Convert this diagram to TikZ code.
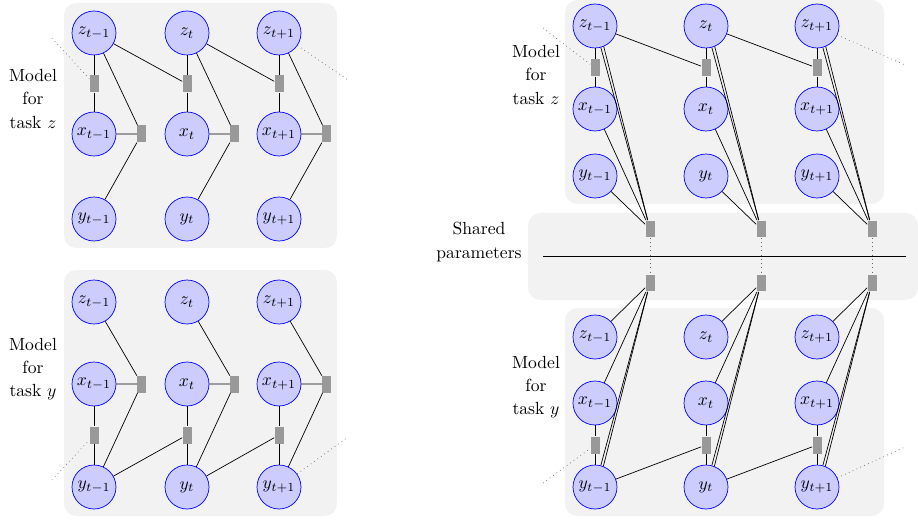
\documentclass[tikz,border=0pt]{standalone}
\usetikzlibrary{positioning}
\begin{document}
\begin{tikzpicture}[x=0.02cm, y=-0.02cm,
    var/.style={draw=blue, fill=blue!20, circle, minimum size=0.88cm, inner sep=0pt},
    fac/.style={fill=black!40, minimum width=0.18cm, minimum height=0.34cm, inner sep=0pt},
    panel/.style={fill=black!5, rounded corners=7pt},
    link/.style={dotted, black!60},
    lab/.style={align=center, font=\fontsize{10}{13.2}\selectfont}]
    \useasboundingbox (0,0) rectangle (918,523);

    \fill [panel] (64,3) rectangle (337,248);
    \fill [panel] (64,270) rectangle (337,516);
    \fill [panel] (565,0) rectangle (884,204);
    \fill [panel] (528,213) rectangle (918,300);
    \fill [panel] (565,308) rectangle (884,516);

    \node [lab] (ta) at (33,99) {Model\\for\\task $z$};
    \node [lab] (tb) at (33,369) {Model\\for\\task $y$};
    \node [lab] (tc) at (536,75) {Model\\for\\task $z$};
    \node [lab] (td) at (536,387) {Model\\for\\task $y$};
    \node [lab] (ts) at (479,242) {Shared\\parameters};

    \foreach \i/\s/\X in {1/{t-1}/94, 2/t/187, 3/{t+1}/279} {
        \node [var] (az\i) at (\X,33) {$z_{\s}$};
        \node [var] (ax\i) at (\X,134) {$x_{\s}$};
        \node [var] (ay\i) at (\X,219) {$y_{\s}$};
        \node [fac] (af\i) at (\X,84) {};
        \node [fac, right=0.41cm of ax\i] (ag\i) {};
        \draw (az\i) -- (af\i) -- (ax\i);
        \draw (az\i) -- (ag\i) -- (ax\i);
        \draw (ay\i) -- (ag\i);

        \node [var] (bz\i) at (\X,302) {$z_{\s}$};
        \node [var] (bx\i) at (\X,384) {$x_{\s}$};
        \node [var] (by\i) at (\X,487) {$y_{\s}$};
        \node [fac] (bf\i) at (\X,435) {};
        \node [fac, right=0.41cm of bx\i] (bg\i) {};
        \draw (bx\i) -- (bf\i) -- (by\i);
        \draw (bz\i) -- (bg\i) -- (bx\i);
        \draw (by\i) -- (bg\i);
    }

    \foreach \i/\s/\X in {1/{t-1}/595, 2/t/706, 3/{t+1}/817} {
        \node [var] (cz\i) at (\X,26) {$z_{\s}$};
        \node [var] (cx\i) at (\X,109) {$x_{\s}$};
        \node [var] (cy\i) at (\X,176) {$y_{\s}$};
        \node [fac] (cf\i) at (\X,68) {};
        \node [fac] (sa\i) at (\X+55,229) {};
        \draw (cz\i) -- (cf\i) -- (cx\i);
        \draw (cz\i) -- (sa\i);
        \draw (cz\i.-67) -- (sa\i);
        \draw (cx\i) -- (sa\i);
        \draw (cy\i) -- (sa\i);

        \node [fac] (sb\i) at (\X+55,283) {};
        \node [var] (dz\i) at (\X,337) {$z_{\s}$};
        \node [var] (dx\i) at (\X,403) {$x_{\s}$};
        \node [var] (dy\i) at (\X,487) {$y_{\s}$};
        \node [fac] (df\i) at (\X,445) {};
        \draw (dx\i) -- (df\i) -- (dy\i);
        \draw (sb\i) -- (dz\i);
        \draw (sb\i) -- (dx\i);
        \draw (sb\i) -- (dy\i);
        \draw (sb\i) -- (dy\i.68);

        \draw [link] (sa\i) -- (sb\i);
    }

    \draw (az1) -- (af2) (az2) -- (af3);
    \draw (by1) -- (bf2) (by2) -- (bf3);
    \draw (cz1) -- (cf2) (cz2) -- (cf3);
    \draw (dy1) -- (df2) (dy2) -- (df3);

    \coordinate (sl) at (543,256);
    \coordinate (sr) at (906,256);
    \draw (sl) -- (sr);

    \coordinate (ain) at (52,38);
    \coordinate (aout) at (348,80);
    \coordinate (bin) at (52,480);
    \coordinate (bout) at (348,437);
    \coordinate (cin) at (543,28);
    \coordinate (cout) at (905,65);
    \coordinate (din) at (543,483);
    \coordinate (dout) at (905,447);
    \draw [link] (ain) -- (af1) (az3) -- (aout);
    \draw [link] (bin) -- (bf1) (by3) -- (bout);
    \draw [link] (cin) -- (cf1) (cz3) -- (cout);
    \draw [link] (din) -- (df1) (dy3) -- (dout);
\end{tikzpicture}
\end{document}
